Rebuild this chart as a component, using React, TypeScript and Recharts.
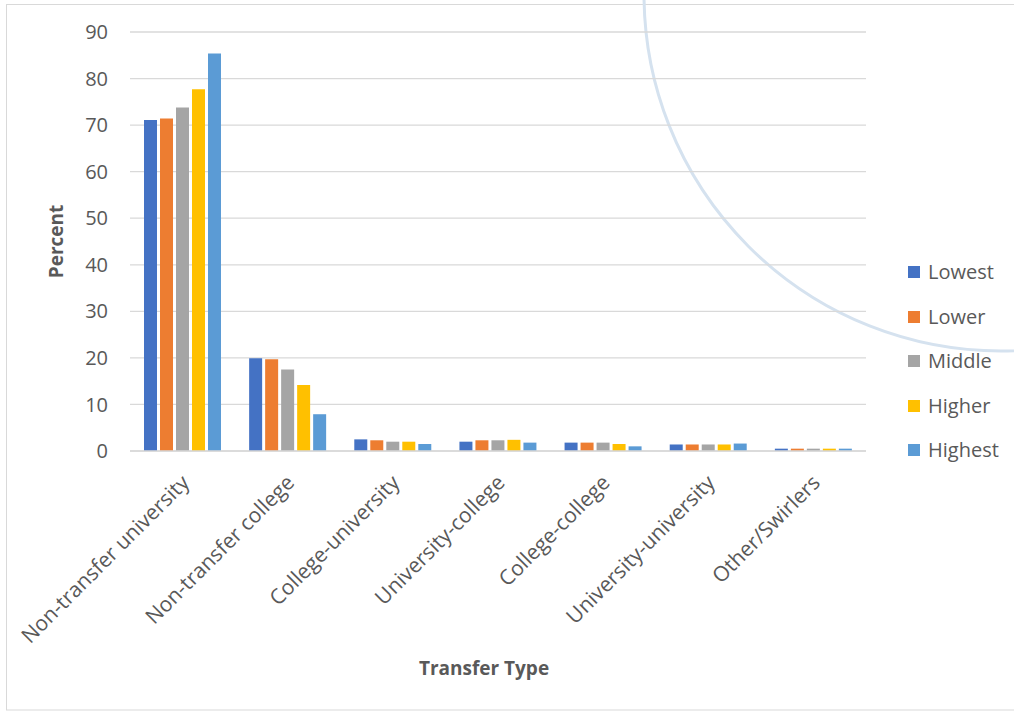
import React from 'react';
import { BarChart, Bar, XAxis, YAxis, CartesianGrid, Label } from 'recharts';

const categories = [
  'Non-transfer university',
  'Non-transfer college',
  'College-university',
  'University-college',
  'College-college',
  'University-university',
  'Other/Swirlers',
];

const seriesNames = ['Lowest', 'Lower', 'Middle', 'Higher', 'Highest'];
const seriesColors = ['#4472C4', '#ED7D31', '#A5A5A5', '#FFC000', '#5B9BD5'];

const lowest = [71.1, 19.9, 2.5, 2.0, 1.8, 1.4, 0.5];
const lower = [71.4, 19.7, 2.3, 2.3, 1.8, 1.4, 0.5];
const middle = [73.8, 17.5, 2.0, 2.3, 1.8, 1.4, 0.5];
const higher = [77.7, 14.2, 2.0, 2.4, 1.5, 1.4, 0.5];
const highest = [85.4, 7.9, 1.5, 1.8, 1.0, 1.6, 0.5];

const yTicks = [0, 10, 20, 30, 40, 50, 60, 70, 80, 90];

const seriesValues = [lowest, lower, middle, higher, highest];

const data = categories.map((name, i) => {
  const row: Record<string, string | number> = { name };
  seriesNames.forEach((s, k) => {
    row[s] = seriesValues[k][i];
  });
  return row;
});

const FONT = '"Open Sans", "Liberation Sans", sans-serif';
const TEXT = '#595959';

const XTick = (props: any) => {
  const { x, y, payload } = props;
  const ax = x + 8;
  const ay = y + 33;
  return (
    <text
      x={ax}
      y={ay}
      transform={`rotate(-45 ${ax} ${ay})`}
      textAnchor="end"
      fill={TEXT}
      fontSize={21}
      fontFamily={FONT}
    >
      {payload.value}
    </text>
  );
};

// Series key, stacked vertically to the right of the plot
const SeriesKey = () => (
  <div
    style={{
      position: 'absolute',
      left: 908,
      top: 249.75,
      fontFamily: FONT,
      fontSize: 20,
      color: TEXT,
    }}
  >
    {seriesNames.map((s, k) => (
      <div key={s} style={{ height: 44.5, display: 'flex', alignItems: 'center' }}>
        <span
          style={{ width: 12, height: 12, background: seriesColors[k], display: 'inline-block', marginRight: 8 }}
        />
        <span style={{ lineHeight: '20px' }}>{s}</span>
      </div>
    ))}
  </div>
);

export default function App() {
  return (
    <div
      style={{ position: 'absolute', left: 0, top: 0, width: 1014, height: 715, background: '#fff', overflow: 'hidden' }}
    >
      <svg width={1014} height={715} style={{ position: 'absolute', left: 0, top: 0 }}>
        <rect x={6.5} y={4.5} width={1020} height={705.5} fill="none" stroke="#d9d9d9" strokeWidth={1} />
        <circle cx={1001} cy={-6} r={357} fill="none" stroke="#d5e2ef" strokeWidth={3} />
      </svg>
      <div style={{ position: 'absolute', left: 0, top: 0 }}>
        <BarChart
          width={1014}
          height={715}
          data={data}
          margin={{ top: 32, right: 148, bottom: 0, left: 0 }}
          barCategoryGap={14}
          barGap={3}
        >
          <CartesianGrid vertical={false} stroke="#d9d9d9" strokeWidth={1.3} />
          <XAxis
            dataKey="name"
            height={264}
            tickLine={false}
            axisLine={{ stroke: '#d9d9d9', strokeWidth: 1.3 }}
            tickSize={0}
            tickMargin={0}
            interval={0}
            tick={<XTick />}
          >
            <Label
              value="Transfer Type"
              position="insideBottom"
              offset={40}
              dx={-14}
              fill={TEXT}
              fontSize={19}
              fontWeight="bold"
              fontFamily={FONT}
            />
          </XAxis>
          <YAxis
            width={130}
            domain={[0, 90]}
            ticks={yTicks}
            axisLine={false}
            tickLine={false}
            tickSize={0}
            tickMargin={22}
            tick={{ fill: TEXT, fontSize: 20, fontFamily: FONT }}
          >
            <Label
              value="Percent"
              angle={-90}
              position="insideLeft"
              offset={0}
              dx={56}
              fill={TEXT}
              fontSize={19}
              fontWeight="bold"
              fontFamily={FONT}
              style={{ textAnchor: 'middle' }}
            />
          </YAxis>
          {seriesNames.map((s, k) => (
            <Bar key={s} dataKey={s} name={s} fill={seriesColors[k]} isAnimationActive={false} />
          ))}
        </BarChart>
      </div>
      <SeriesKey />
    </div>
  );
}
